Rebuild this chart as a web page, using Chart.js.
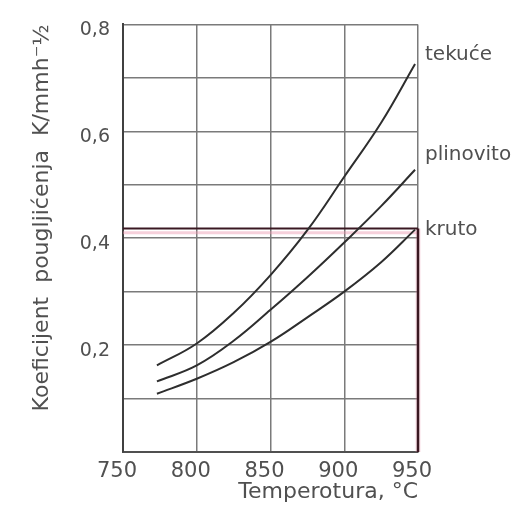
<!DOCTYPE html>
<html><head><meta charset="utf-8">
<script src="https://cdn.jsdelivr.net/npm/chart.js@4"></script>
<style>html,body{margin:0;padding:0;background:#fff}#wrap{width:526px;height:513px}</style>
</head><body><div id="wrap"><canvas id="c" width="526" height="513"></canvas></div>
<script>
// ---- data ----
const seriesNames = ['tekuće', 'plinovito', 'kruto'];
const tekuceT = [773, 800, 825, 850, 875, 900, 925, 948];
const tekuceK = [0.162, 0.203, 0.260, 0.331, 0.415, 0.515, 0.616, 0.726];
const plinovitoT = [773, 800, 825, 850, 875, 900, 925, 948];
const plinovitoK = [0.132, 0.162, 0.208, 0.266, 0.327, 0.392, 0.460, 0.528];
const krutoT = [773, 800, 825, 850, 875, 900, 925, 948];
const krutoK = [0.109, 0.137, 0.168, 0.206, 0.252, 0.300, 0.355, 0.416];
const refK = 0.418;            // horizontal marker level
const refT = [750, 950];       // marker span
const xTickValues = [750, 800, 850, 900, 950];
const yLabelValues = [0.2, 0.4, 0.6, 0.8];
const xTitle = 'Temperotura, °C';
const yTitle = 'Koeficijent  pougljićenja  K/mmh⁻½';

const pts = (xs, ys) => xs.map((x, i) => ({x, y: ys[i]}));

const TEXT = '#505050';
const GRID = '#7a7a7a';

const endLabels = {
  id: 'endLabels',
  afterDatasetsDraw(chart, args, opts) {
    const {ctx, scales: {x, y}} = chart;
    ctx.save();
    ctx.font = opts.font;
    ctx.fillStyle = opts.color;
    ctx.textBaseline = 'middle';
    ctx.textAlign = 'left';
    opts.items.forEach(it => {
      const ds = chart.data.datasets[it.dataset];
      const last = ds.data[ds.data.length - 1];
      ctx.fillText(ds.label, x.getPixelForValue(xTickValues[xTickValues.length - 1]) + opts.dx,
                   y.getPixelForValue(last.y) + it.dy);
    });
    ctx.restore();
  }
};

const curve = (label, data) => ({
  label, data, borderColor: '#2e2e2e', borderWidth: 2, pointRadius: 0,
  tension: 0.4, fill: false, order: 1
});

new Chart(document.getElementById('c'), {
  type: 'line',
  data: {
    datasets: [
      curve(seriesNames[0], pts(tekuceT, tekuceK)),
      curve(seriesNames[1], pts(plinovitoT, plinovitoK)),
      curve(seriesNames[2], pts(krutoT, krutoK)),
      { label: 'ref-halo', data: [{x: refT[0], y: refK - 0.008}, {x: refT[1], y: refK - 0.008}],
        borderColor: 'rgba(235,150,175,0.45)', borderWidth: 3, pointRadius: 0, order: 10, clip: 8 },
      { label: 'ref-h', data: [{x: refT[0], y: refK}, {x: refT[1], y: refK}],
        borderColor: '#3a1822', borderWidth: 2, pointRadius: 0, order: 5, clip: 8 },
      { label: 'ref-v-halo', data: [{x: refT[1], y: refK}, {x: refT[1], y: 0}],
        borderColor: 'rgba(235,150,175,0.3)', borderWidth: 5, pointRadius: 0, order: 10, clip: 8 },
      { label: 'ref-v', data: [{x: refT[1], y: refK}, {x: refT[1], y: 0}],
        borderColor: '#3a1822', borderWidth: 2.5, pointRadius: 0, order: 5, clip: 8 }
    ]
  },
  options: {
    responsive: false,
    animation: false,
    layout: { padding: { top: 21, right: 108, left: 0, bottom: 0 } },
    plugins: {
      legend: { display: false },
      tooltip: { enabled: false },
      endLabels: {
        font: '20px "DejaVu Sans"', color: TEXT, dx: 7,
        items: [ {dataset: 0, dy: -9}, {dataset: 1, dy: -15}, {dataset: 2, dy: 0} ]
      }
    },
    scales: {
      x: {
        type: 'linear', min: 750, max: 950,
        afterBuildTicks: s => { s.ticks = xTickValues.map(v => ({value: v})); },
        afterFit: s => { s.height = 61; },
        ticks: { font: {family: 'DejaVu Sans', size: 21}, color: TEXT, padding: 7, labelOffset: -6,
                 callback: v => String(v) },
        grid: { color: GRID, lineWidth: 1.5, drawTicks: false },
        border: { color: '#505050', width: 2 },
        title: { display: true, text: xTitle, align: 'end', color: TEXT,
                 font: {family: 'DejaVu Sans', size: 22}, padding: {top: 0, bottom: 8} }
      },
      y: {
        min: 0, max: 0.8,
        ticks: { stepSize: 0.1, font: {family: 'DejaVu Sans', size: 19}, color: TEXT, padding: 13, labelOffset: 6,
                 callback: v => yLabelValues.some(t => Math.abs(t - v) < 1e-6) ? v.toFixed(1).replace('.', ',') : '' },
        grid: { color: GRID, lineWidth: 1.5, drawTicks: false },
        border: { color: '#404040', width: 2 },
        afterFit: s => { s.width = 123; },
        title: { display: true, text: yTitle, align: 'end', color: TEXT,
                 font: {family: 'DejaVu Sans', size: 22}, padding: {top: 29, bottom: 0} }
      }
    }
  },
  plugins: [endLabels]
});
</script>
</body></html>
